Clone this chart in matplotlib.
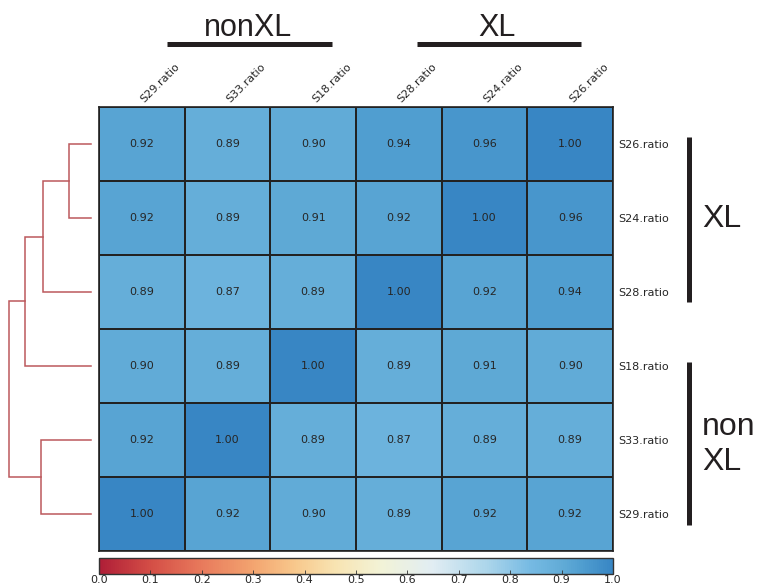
import numpy as np
import matplotlib
matplotlib.use("Agg")
import matplotlib.pyplot as plt
import matplotlib.transforms as mtransforms
from matplotlib.colors import LinearSegmentedColormap
from matplotlib.lines import Line2D

# ---------------- data ----------------
row_labels = ["S26.ratio", "S24.ratio", "S28.ratio", "S18.ratio", "S33.ratio", "S29.ratio"]
col_labels = ["S29.ratio", "S33.ratio", "S18.ratio", "S28.ratio", "S24.ratio", "S26.ratio"]
values = np.array([
    [0.92, 0.89, 0.90, 0.94, 0.96, 1.00],
    [0.92, 0.89, 0.91, 0.92, 1.00, 0.96],
    [0.89, 0.87, 0.89, 1.00, 0.92, 0.94],
    [0.90, 0.89, 1.00, 0.89, 0.91, 0.90],
    [0.92, 1.00, 0.89, 0.87, 0.89, 0.89],
    [1.00, 0.92, 0.90, 0.89, 0.92, 0.92],
])
# dendrogram merges: (left id, right id, height); leaves 0..5 in row order
merges = [(0, 1, 0.27), (6, 2, 0.59), (7, 3, 0.80), (4, 5, 0.61), (8, 9, 1.00)]
cbar_ticks = [0.0, 0.1, 0.2, 0.3, 0.4, 0.5, 0.6, 0.7, 0.8, 0.9, 1.0]
group_top = ["nonXL", "XL"]
group_right = ["XL", "non\nXL"]

# ---------------- colormap ----------------
stops = [
    (0.00, (175, 30, 55)),
    (0.10, (212, 78, 70)),
    (0.20, (232, 122, 92)),
    (0.30, (243, 165, 112)),
    (0.38, (248, 200, 140)),
    (0.46, (248, 228, 178)),
    (0.55, (242, 243, 215)),
    (0.65, (225, 237, 243)),
    (0.75, (175, 215, 235)),
    (0.84, (118, 186, 227)),
    (0.90, (98, 172, 215)),
    (0.94, (80, 158, 208)),
    (1.00, (56, 134, 196)),
]
cmap = LinearSegmentedColormap.from_list(
    "custom", [(p, tuple(c / 255 for c in rgb)) for p, rgb in stops])

W, H = 757, 588
fig = plt.figure(figsize=(W / 100, H / 100), dpi=100)

def fx(px):
    return px / W

def fy(py):
    return 1 - py / H

# heatmap
hx0, hx1, hy0, hy1 = 99, 613, 107, 551
ax = fig.add_axes([fx(hx0), fy(hy1), fx(hx1 - hx0), (hy1 - hy0) / H])
nr, nc = values.shape
mesh = ax.pcolormesh(values, cmap=cmap, vmin=0, vmax=1,
                     edgecolors="#222222", linewidth=1.2)
ax.set_xlim(0, nc)
ax.set_ylim(nr, 0)
for i in range(nr):
    for j in range(nc):
        ax.text(j + 0.5, i + 0.5, f"{values[i, j]:.2f}", ha="center", va="center",
                fontsize=8, color="#262626")
for s in ax.spines.values():
    s.set_color("#222222")
    s.set_linewidth(1.2)
ax.xaxis.tick_top()
ax.set_xticks(np.arange(nc) + 0.5)
ax.set_xticklabels(col_labels, rotation=45, ha="left", rotation_mode="anchor",
                   fontsize=8, color="#262626")
ax.yaxis.tick_right()
ax.set_yticks(np.arange(nr) + 0.5)
ax.set_yticklabels(row_labels, fontsize=8, color="#262626")
ax.tick_params(axis="x", length=0, pad=2)
ax.tick_params(axis="y", length=0, pad=4)
shift = mtransforms.ScaledTranslation(4 / 100, 0, fig.dpi_scale_trans)
for lab in ax.get_xticklabels():
    lab.set_transform(lab.get_transform() + shift)

# dendrogram
dax = fig.add_axes([fx(9), fy(hy1), fx(91 - 9), (hy1 - hy0) / H])
pos = {i: i + 0.5 for i in range(nr)}
hgt = {i: 0.0 for i in range(nr)}
dcol = "#bc585c"
for k, (a, b, h) in enumerate(merges):
    nid = nr + k
    ya, yb = pos[a], pos[b]
    dax.plot([hgt[a], h, h, hgt[b]], [ya, ya, yb, yb], color=dcol, lw=1.1,
             solid_joinstyle="miter", clip_on=False)
    pos[nid] = (ya + yb) / 2
    hgt[nid] = h
dax.set_xlim(1.0, 0.0)
dax.set_ylim(nr, 0)
dax.axis("off")

# colorbar
cax = fig.add_axes([fx(hx0), fy(574), fx(hx1 - hx0), 16 / H])
cb = fig.colorbar(mesh, cax=cax, orientation="horizontal", ticks=cbar_ticks)
cb.outline.set_edgecolor("#333333")
cb.outline.set_linewidth(1.0)
cax.tick_params(axis="x", direction="in", length=3, width=0.6, color="#333333",
                labelsize=8, labelcolor="#262626", pad=1)
cax.set_xticklabels([f"{t:.1f}" for t in cbar_ticks])

# group annotations
bar_kw = dict(color="#231f20", lw=3.6, solid_capstyle="butt", transform=fig.transFigure)
fig.add_artist(Line2D([fx(167), fx(332)], [fy(44), fy(44)], **bar_kw))
fig.add_artist(Line2D([fx(417), fx(581)], [fy(44), fy(44)], **bar_kw))
fig.add_artist(Line2D([fx(689), fx(689)], [fy(137), fy(302)], **bar_kw))
fig.add_artist(Line2D([fx(689), fx(689)], [fy(362), fy(525)], **bar_kw))

tfont = dict(family=["Liberation Sans", "DejaVu Sans"], color="#231f20")
fig.text(fx(248), fy(36), group_top[0], ha="center", va="baseline", fontsize=22, **tfont)
fig.text(fx(497), fy(36), group_top[1], ha="center", va="baseline", fontsize=22, **tfont)
fig.text(fx(702), fy(227), group_right[0], ha="left", va="baseline", fontsize=23, **tfont)
nl = group_right[1].split("\n")
fig.text(fx(702), fy(435), nl[0], ha="left", va="baseline", fontsize=23, **tfont)
fig.text(fx(702), fy(470), nl[1], ha="left", va="baseline", fontsize=23, **tfont)

fig.savefig("out.png", dpi=100)
